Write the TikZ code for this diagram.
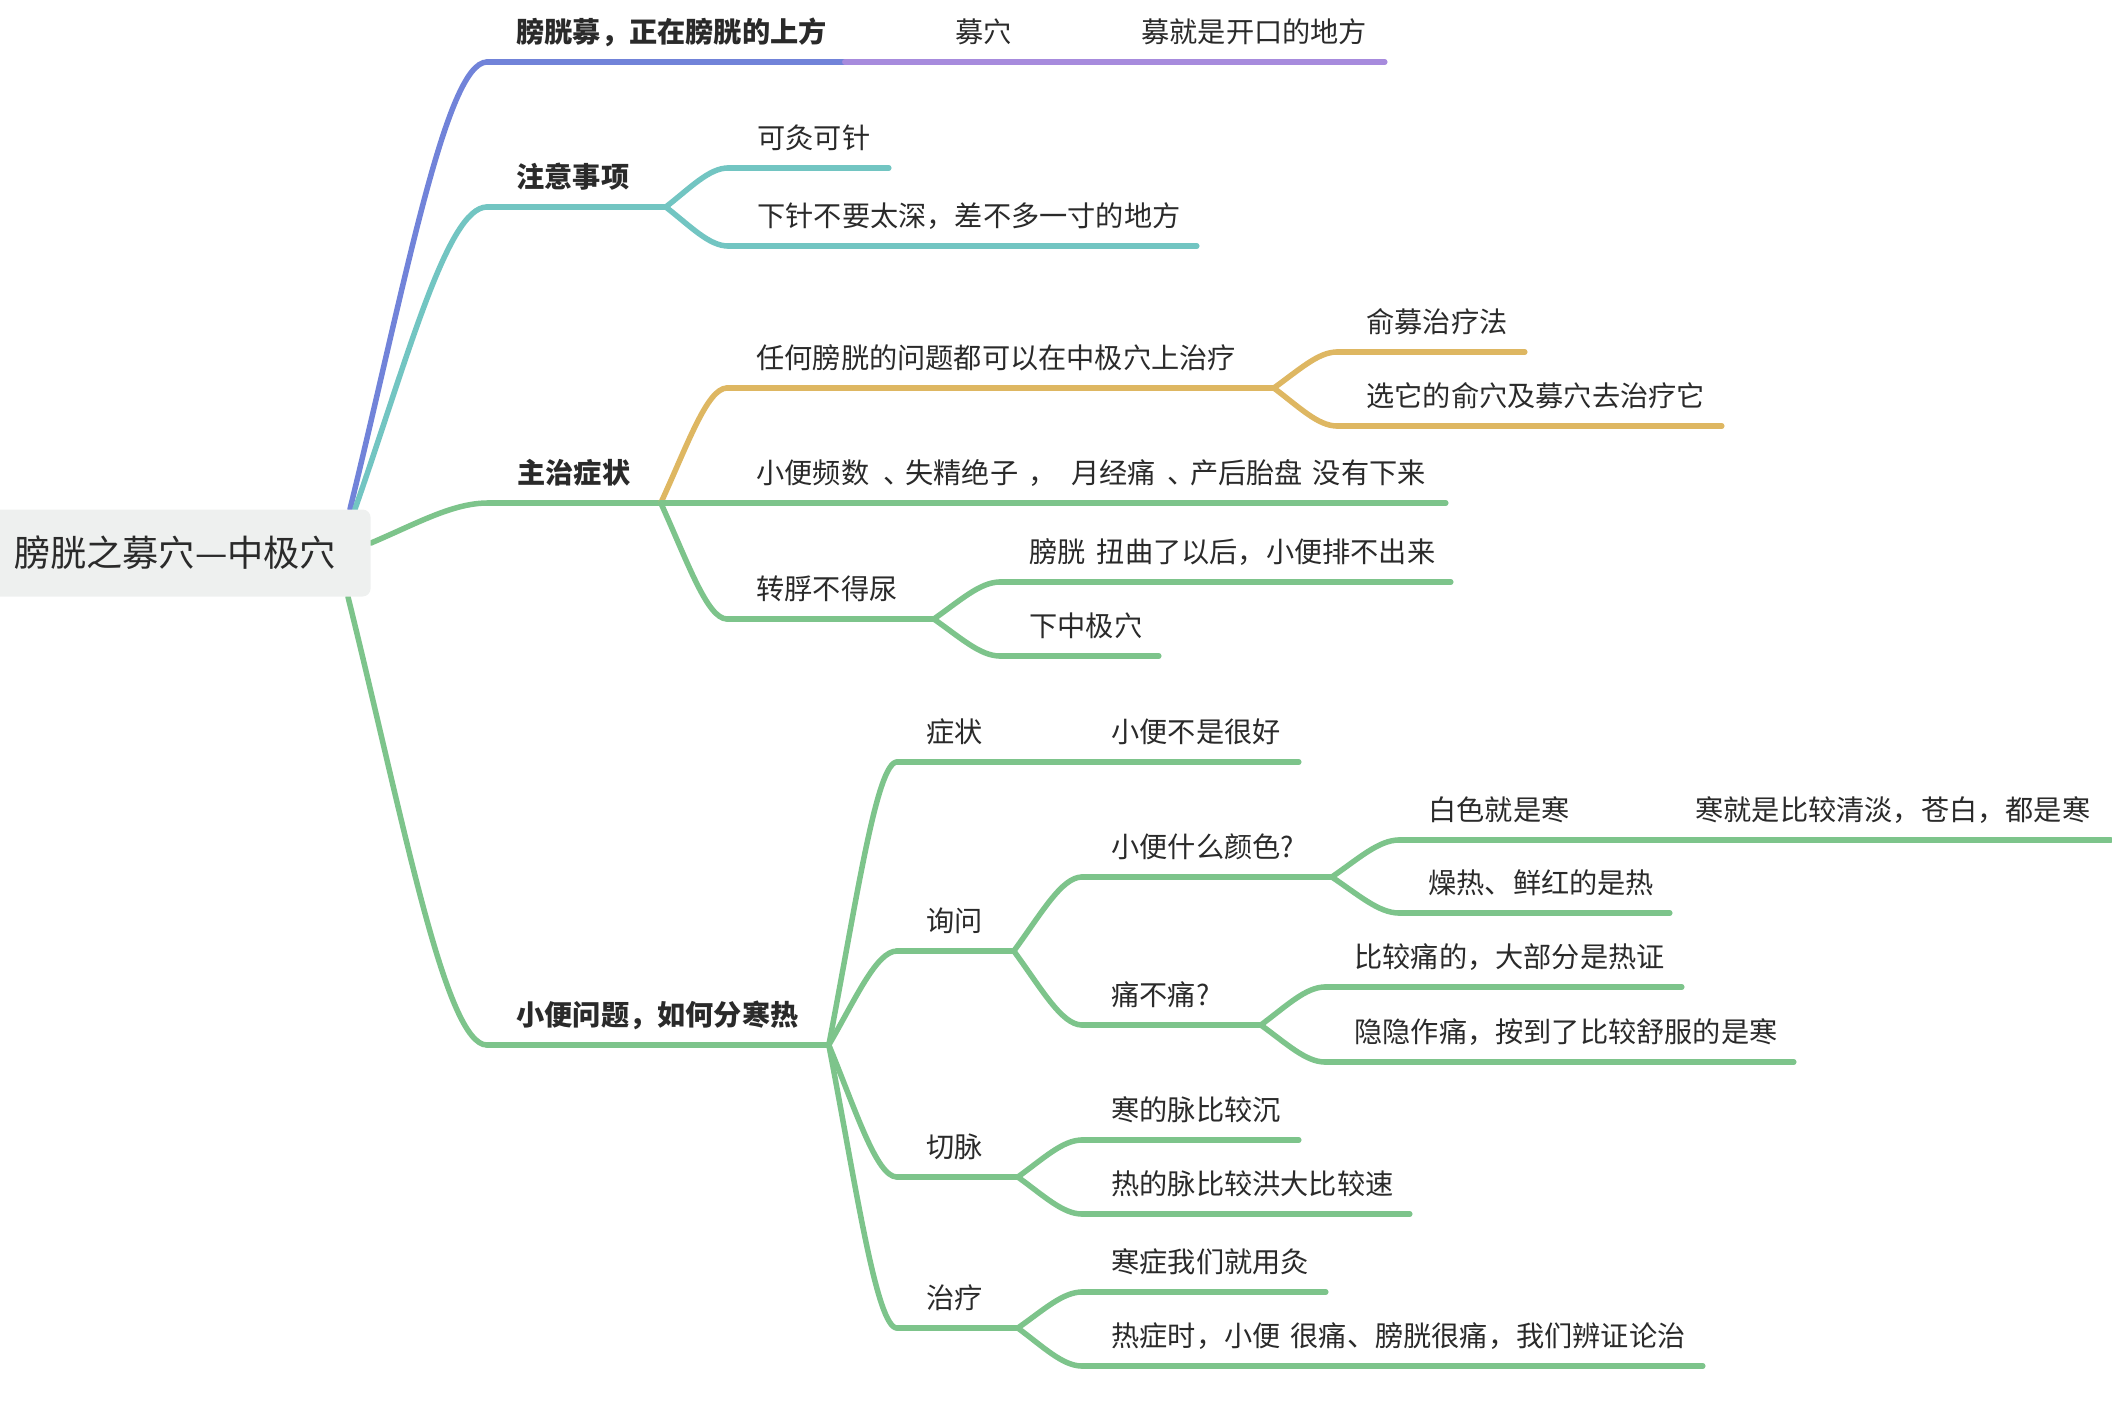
\documentclass[tikz,border=0pt]{standalone}
\usepackage{fontspec}
\newfontfamily\cjk{Noto Sans CJK SC}
\usetikzlibrary{calc,backgrounds}
\definecolor{cblue}{HTML}{7183D9}
\definecolor{cpurple}{HTML}{A78BDD}
\definecolor{cteal}{HTML}{72C5C2}
\definecolor{cyellow}{HTML}{DEB762}
\definecolor{cgreen}{HTML}{7DC48B}
\definecolor{rootfill}{HTML}{EEF0EF}
\definecolor{txt}{HTML}{2A2A2A}
\newcommand\tpc[1]{\mbox{\hspace{14.5pt}#1}}
\tikzset{
  topic/.style={anchor=south west, inner xsep=0pt, inner ysep=9.65pt, text depth=0pt,
    text width=#1, align=left, font=\cjk\fontsize{14.1pt}{17pt}\selectfont, text=txt},
  boldtopic/.style={font=\cjk\bfseries\fontsize{14.1pt}{17pt}\selectfont},
  ln/.style={line width=2.75pt, line cap=round, draw=#1},
  branch/.style={to path={let \p1=(\tikztostart), \p2=(\tikztotarget) in
    (\p1) .. controls ({\x1+0.4*(\x2-\x1)},{\y1+0.5*(\y2-\y1)}) and ({\x1+0.7*(\x2-\x1)},{\y2}) .. (\p2)}},
}
\begin{document}
\begin{tikzpicture}[x=0.5pt,y=-0.5pt]
\useasboundingbox (0,0) rectangle (2112,1402);
\clip (0,0) rectangle (2112,1402);
% root
\node[fill=rootfill, rounded corners=4pt, minimum width=195.5pt, minimum height=43.5pt,
  inner sep=0pt, anchor=east, font=\cjk\fontsize{18.1pt}{22pt}\selectfont, text=txt]
  (root) at (371,553) {膀胱之募穴—中极穴};
\coordinate (rA) at ($(root.north east)+(-21,0)$);
\coordinate (rB) at ($(root.north east)+(-16,0)$);
\coordinate (rC) at ($(root.east)+(0,-10)$);
\coordinate (rD) at ($(root.south east)+(-23,0)$);
% level 1 and below
\node[topic=178.5pt, boldtopic] (A) at (487,62) {\tpc{膀胱募，正在膀胱的上方}};
\node[topic=52.5pt] (A1) at (926,62) {\tpc{募穴}};
\node[topic=136pt] (A2) at (1112,62) {\tpc{募就是开口的地方}};

\node[topic=89pt, boldtopic] (B) at (487,207) {\tpc{注意事项}};
\node[topic=80pt] (B1) at (728,168) {\tpc{可灸可针}};
\node[topic=234pt] (B2) at (728,246) {\tpc{下针不要太深，差不多一寸的地方}};

\node[topic=86pt, boldtopic] (C) at (488,503) {\tpc{主治症状}};
\node[topic=273pt] (C1) at (727,388) {\tpc{任何膀胱的问题都可以在中极穴上治疗}};
\node[topic=93.5pt] (C1a) at (1337,352) {\tpc{俞募治疗法}};
\node[topic=192pt] (C1b) at (1337,426) {\tpc{选它的俞穴及募穴去治疗它}};
\node[topic=359pt] (C2) at (727,503) {\tpc{小便频数\hspace{7pt}、\hspace{-3pt}失精绝子\hspace{5pt}，\hspace{7.5pt}月经痛\hspace{6pt}、\hspace{-3pt}产后胎盘\hspace{5pt}没有下来}};
\node[topic=103pt] (C3) at (727,619) {\tpc{转脬不得尿}};
\node[topic=225pt] (C3a) at (1000,582) {\tpc{膀胱\hspace{5.5pt}扭曲了以后，小便排不出来}};
\node[topic=79pt] (C3b) at (1000,656) {\tpc{下中极穴}};

\node[topic=170.5pt, boldtopic] (D) at (487,1045) {\tpc{小便问题，如何分寒热}};
\node[topic=52pt] (D1) at (897,762) {\tpc{症状}};
\node[topic=108pt] (D1a) at (1082,762) {\tpc{小便不是很好}};
\node[topic=58pt] (D2) at (897,951) {\tpc{询问}};
\node[topic=124.5pt] (D2a) at (1082,877) {\tpc{小便什么颜色?}};
\node[topic=93.5pt] (D2a1) at (1399,840) {\tpc{白色就是寒}};
\node[topic=222pt] (D2a1a) at (1666,840) {\tpc{寒就是比较清淡，苍白，都是寒}};
\node[topic=135pt] (D2a2) at (1399,913) {\tpc{燥热、鲜红的是热}};
\node[topic=89pt] (D2b) at (1082,1025) {\tpc{痛不痛?}};
\node[topic=178pt] (D2b1) at (1325,987) {\tpc{比较痛的，大部分是热证}};
\node[topic=234pt] (D2b2) at (1325,1062) {\tpc{隐隐作痛，按到了比较舒服的是寒}};
\node[topic=60pt] (D3) at (897,1177) {\tpc{切脉}};
\node[topic=108pt] (D3a) at (1082,1140) {\tpc{寒的脉比较沉}};
\node[topic=163.5pt] (D3b) at (1082,1214) {\tpc{热的脉比较洪大比较速}};
\node[topic=60pt] (D4) at (897,1328) {\tpc{治疗}};
\node[topic=121.5pt] (D4a) at (1082,1292) {\tpc{寒症我们就用灸}};
\node[topic=310pt] (D4b) at (1082,1366) {\tpc{热症时，小便\hspace{5pt}很痛、膀胱很痛，我们辨证论治}};

\begin{pgfonlayer}{background}
% root connectors
\draw[ln=cblue] (rA) to[branch] (A.south west);
\draw[ln=cteal] (rB) to[branch] (B.south west);
\draw[ln=cgreen] (rC) to[branch] (C.south west);
\draw[ln=cgreen] (rD) to[branch] (D.south west);
% A
\draw[ln=cblue] (A.south west) -- (A.south east);
\foreach \k in {A1,A2} \draw[ln=cpurple] (\k.south west) -- (\k.south east);
\draw[ln=cpurple] (A.south east) -- (A1.south west);
\draw[ln=cpurple] (A1.south east) -- (A2.south west);
% B
\foreach \k in {B,B1,B2} \draw[ln=cteal] (\k.south west) -- (\k.south east);
\foreach \k in {B1,B2} \draw[ln=cteal] (B.south east) to[branch] (\k.south west);
% C
\foreach \k in {C,C2,C3,C3a,C3b} \draw[ln=cgreen] (\k.south west) -- (\k.south east);
\foreach \k in {C1,C1a,C1b} \draw[ln=cyellow] (\k.south west) -- (\k.south east);
\draw[ln=cyellow] (C.south east) to[branch] (C1.south west);
\foreach \k in {C1a,C1b} \draw[ln=cyellow] (C1.south east) to[branch] (\k.south west);
\foreach \k in {C2,C3} \draw[ln=cgreen] (C.south east) to[branch] (\k.south west);
\foreach \k in {C3a,C3b} \draw[ln=cgreen] (C3.south east) to[branch] (\k.south west);
% D
\foreach \k in {D,D1,D1a,D2,D2a,D2a1,D2a1a,D2a2,D2b,D2b1,D2b2,D3,D3a,D3b,D4,D4a,D4b}
  \draw[ln=cgreen] (\k.south west) -- (\k.south east);
\foreach \k in {D1,D2,D3,D4} \draw[ln=cgreen] (D.south east) to[branch] (\k.south west);
\draw[ln=cgreen] (D1.south east) -- (D1a.south west);
\foreach \k in {D2a,D2b} \draw[ln=cgreen] (D2.south east) to[branch] (\k.south west);
\foreach \k in {D2a1,D2a2} \draw[ln=cgreen] (D2a.south east) to[branch] (\k.south west);
\draw[ln=cgreen] (D2a1.south east) -- (D2a1a.south west);
\foreach \k in {D2b1,D2b2} \draw[ln=cgreen] (D2b.south east) to[branch] (\k.south west);
\foreach \k in {D3a,D3b} \draw[ln=cgreen] (D3.south east) to[branch] (\k.south west);
\foreach \k in {D4a,D4b} \draw[ln=cgreen] (D4.south east) to[branch] (\k.south west);
\end{pgfonlayer}
\end{tikzpicture}
\end{document}
